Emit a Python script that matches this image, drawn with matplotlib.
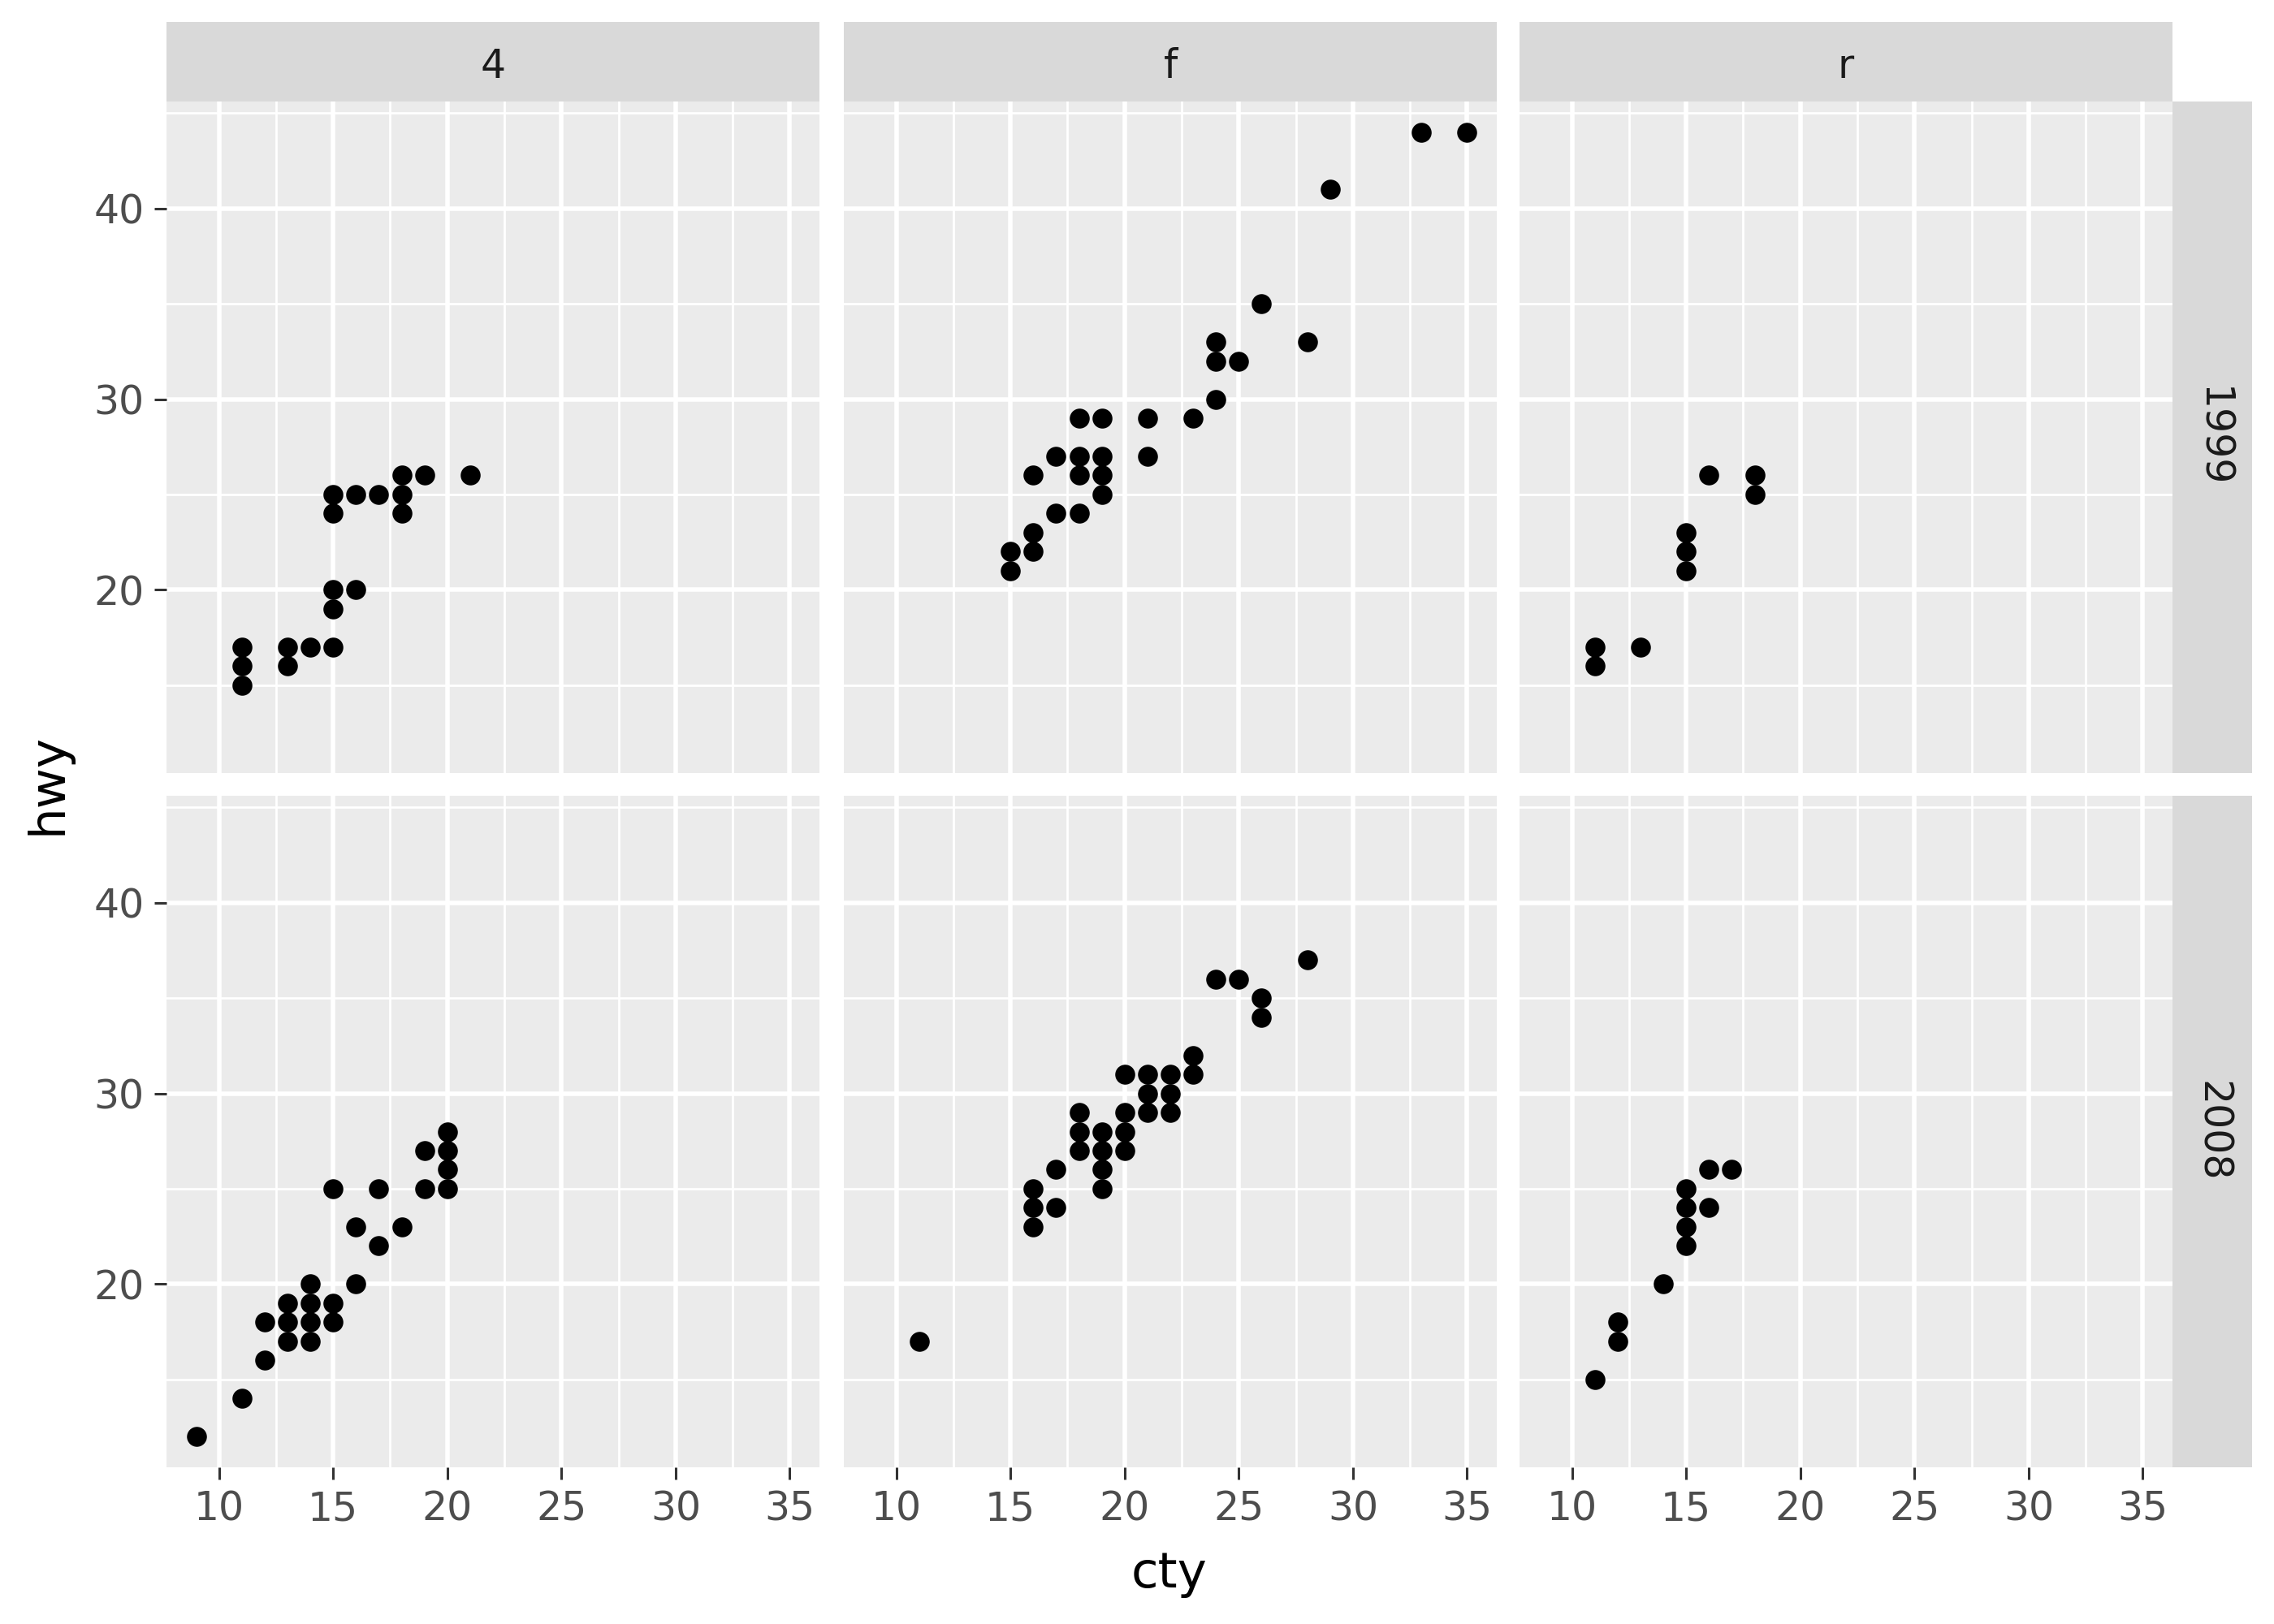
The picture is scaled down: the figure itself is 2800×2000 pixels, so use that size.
## Scatter of hwy vs cty, faceted by year (rows) and drv (columns), ggplot-like look

import matplotlib.pyplot as plt
import pandas as pd
import numpy as np

drv_levels = ['4', 'f', 'r']
year_levels = ['1999', '2008']

## values (one point per visible position)
cty_4_1999 = [11, 11, 11, 13, 13, 14, 15, 15, 15, 15, 15, 16, 16, 17, 18, 18, 18, 19, 21]
hwy_4_1999 = [15, 16, 17, 16, 17, 17, 17, 19, 20, 24, 25, 20, 25, 25, 24, 25, 26, 26, 26]

cty_f_1999 = [15, 15, 16, 16, 16, 17, 17, 18, 18, 18, 18, 19, 19, 19, 19, 21, 21, 23, 24, 24, 24, 25, 26, 28, 29, 33, 35]
hwy_f_1999 = [21, 22, 22, 23, 26, 24, 27, 24, 26, 27, 29, 25, 26, 27, 29, 27, 29, 29, 30, 32, 33, 32, 35, 33, 41, 44, 44]

cty_r_1999 = [11, 11, 13, 15, 15, 15, 16, 18, 18]
hwy_r_1999 = [16, 17, 17, 21, 22, 23, 26, 25, 26]

cty_4_2008 = [9, 11, 12, 12, 13, 13, 13, 14, 14, 14, 14, 15, 15, 15, 16, 16, 17, 17, 18, 19, 19, 20, 20, 20, 20]
hwy_4_2008 = [12, 14, 16, 18, 17, 18, 19, 17, 18, 19, 20, 18, 19, 25, 20, 23, 22, 25, 23, 25, 27, 25, 26, 27, 28]

cty_f_2008 = [11, 16, 16, 16, 17, 17, 18, 18, 18, 19, 19, 19, 19, 20, 20, 20, 20, 21, 21, 21, 22, 22, 22, 23, 23, 24, 25, 26, 26, 28]
hwy_f_2008 = [17, 23, 24, 25, 24, 26, 27, 28, 29, 25, 26, 27, 28, 27, 28, 29, 31, 29, 30, 31, 29, 30, 31, 31, 32, 36, 36, 34, 35, 37]

cty_r_2008 = [11, 12, 12, 14, 15, 15, 15, 15, 16, 16, 17]
hwy_r_2008 = [15, 17, 18, 20, 22, 23, 24, 25, 24, 26, 26]

x_breaks = [10, 15, 20, 25, 30, 35]
y_breaks = [20, 30, 40]

## build one long table
parts = [
	('4', '1999', cty_4_1999, hwy_4_1999),
	('f', '1999', cty_f_1999, hwy_f_1999),
	('r', '1999', cty_r_1999, hwy_r_1999),
	('4', '2008', cty_4_2008, hwy_4_2008),
	('f', '2008', cty_f_2008, hwy_f_2008),
	('r', '2008', cty_r_2008, hwy_r_2008),
]
frames = []
for drv, year, cty, hwy in parts:
	frames.append(pd.DataFrame({'cty': cty, 'hwy': hwy, 'drv': drv, 'year': year}))
df = pd.concat(frames, ignore_index=True)

## shared scales with ggplot-style 5% expansion
xmin, xmax = df['cty'].min(), df['cty'].max()
ymin, ymax = df['hwy'].min(), df['hwy'].max()
xpad = (xmax - xmin) * 0.05
ypad = (ymax - ymin) * 0.05
xlim = (xmin - xpad, xmax + xpad)
ylim = (ymin - ypad, ymax + ypad)

x_minor = [b + 2.5 for b in x_breaks if xlim[0] < b + 2.5 < xlim[1]]
y_minor = [v for v in np.arange(5, 50, 10) if ylim[0] < v < ylim[1]]

W, H = 2800., 2000.
fig = plt.figure(figsize=(14, 10), dpi=200)

col_left = [205, 1039, 1871]
panel_w = 804
row_top = [125, 980]
panel_h = 827
strip_h = 98

panel_bg = '#EBEBEB'
strip_bg = '#D9D9D9'

for r, year in enumerate(year_levels):
	for c, drv in enumerate(drv_levels):
		x0 = col_left[c]
		y0 = row_top[r]
		ax = fig.add_axes([x0 / W, 1 - (y0 + panel_h) / H, panel_w / W, panel_h / H])
		ax.set_facecolor(panel_bg)
		for s in ax.spines.values():
			s.set_visible(False)

		ax.set_xlim(xlim)
		ax.set_ylim(ylim)
		ax.set_xticks(x_breaks)
		ax.set_yticks(y_breaks)
		ax.set_xticks(x_minor, minor=True)
		ax.set_yticks(y_minor, minor=True)
		ax.grid(True, which='major', color='white', linewidth=2.0)
		ax.grid(True, which='minor', color='white', linewidth=1.0)
		ax.set_axisbelow(True)

		ax.tick_params(which='minor', length=0)
		ax.tick_params(which='major', length=5.5, width=1.1, color='#333333',
			labelsize=17.6, labelcolor='#4D4D4D', pad=4.4)

		if r == 0:
			ax.tick_params(axis='x', which='major', length=0, labelbottom=False)
		if c != 0:
			ax.tick_params(axis='y', which='major', length=0, labelleft=False)

		sub = df[(df['drv'] == drv) & (df['year'] == year)]
		ax.scatter(sub['cty'], sub['hwy'], s=78, color='black', linewidths=0, zorder=3)

		## column strip on top row
		if r == 0:
			sax = fig.add_axes([x0 / W, 1 - y0 / H, panel_w / W, strip_h / H])
			sax.set_facecolor(strip_bg)
			sax.set_xticks([])
			sax.set_yticks([])
			for s in sax.spines.values():
				s.set_visible(False)
			sax.text(0.5, 0.44, drv, ha='center', va='center', fontsize=17.6,
				color='#1A1A1A', transform=sax.transAxes)

		## row strip on right column
		if c == 2:
			rax = fig.add_axes([(x0 + panel_w) / W, 1 - (y0 + panel_h) / H, strip_h / W, panel_h / H])
			rax.set_facecolor(strip_bg)
			rax.set_xticks([])
			rax.set_yticks([])
			for s in rax.spines.values():
				s.set_visible(False)
			rax.text(0.5, 0.5, year, ha='center', va='center', fontsize=17.6,
				color='#1A1A1A', rotation=-90, transform=rax.transAxes)

## axis titles
fig.text((205 + 2675) / 2 / W, 1 - 1938 / H, 'cty', ha='center', va='center', fontsize=22, color='black')
fig.text(59 / W, 1 - (125 + 1807) / 2 / H, 'hwy', ha='center', va='center', fontsize=22,
	color='black', rotation=90)

fig.savefig('out.png', dpi=200, facecolor='white')
